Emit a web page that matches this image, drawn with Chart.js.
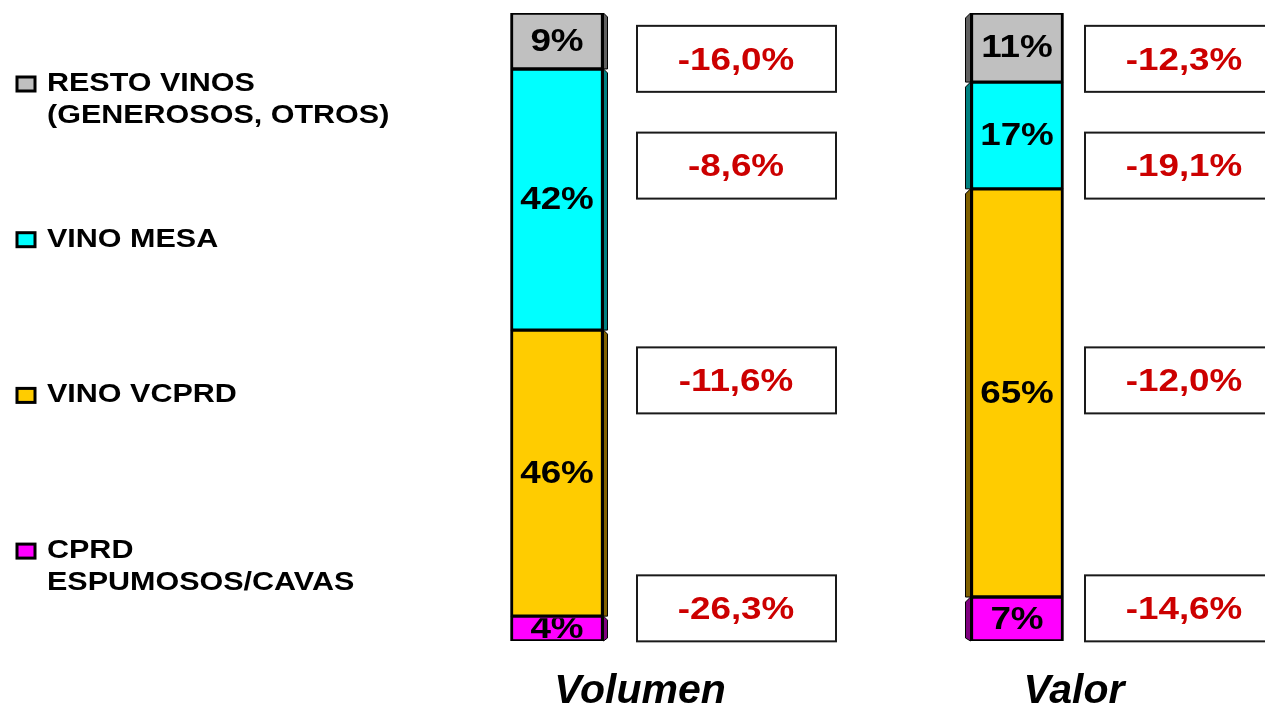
<!DOCTYPE html>
<html>
    <head>
        <meta charset="utf-8">
        <script src="https://cdn.jsdelivr.net/npm/chart.js@4.4.1/dist/chart.umd.min.js"></script>
        <style>
            body { margin: 0; background: #ffffff; }
        </style>
    </head>
    <body>
        <canvas id="myChart" width="1265" height="709"></canvas>
    </body>
    <script type="text/javascript">
        // categories (x) and series, bottom of the stack first
        var categories = ['Volumen', 'Valor'];
        var seriesNames = [
            ['CPRD', 'ESPUMOSOS/CAVAS'],
            ['VINO VCPRD'],
            ['VINO MESA'],
            ['RESTO VINOS', '(GENEROSOS, OTROS)']
        ];
        // share of each segment, %
        var shareCava = [4, 7];
        var shareVcprd = [46, 65];
        var shareMesa = [42, 17];
        var shareResto = [9, 11];
        // change vs previous year, %
        var changeCava = [-26.3, -14.6];
        var changeVcprd = [-11.6, -12.0];
        var changeMesa = [-8.6, -19.1];
        var changeResto = [-16.0, -12.3];

        var shares = [shareCava, shareVcprd, shareMesa, shareResto];
        var changes = [changeCava, changeVcprd, changeMesa, changeResto];

        // styling / layout
        var colours = ['#FF00FF', '#FFCC00', '#00FFFF', '#C0C0C0'];
        var sideColours = ['#800080', '#806000', '#008080', '#606060'];
        var sideDepth = [4, -5];            // 3d side: right on first bar, left on second
        var boxCentre = [5.2, 41.5, 75.7, 92.7]; // y of the change boxes, in axis units
        var boxOffset = [80, 68];           // box left edge from bar centre
        var titleOffset = [83, 57];         // category title centre from bar centre
        var FONT = '"Liberation Sans", Arial, sans-serif';

        // 100% stacked: each column scaled to its own total
        var totals = categories.map(function (c, i) {
            var t = 0;
            shares.forEach(function (s) { t += s[i]; });
            return t;
        });

        var dataSets = shares.map(function (s, k) {
            return {
                label: seriesNames[k].join(' '),
                data: s.map(function (v, i) { return v / totals[i] * 100; }),
                backgroundColor: colours[k],
                borderColor: '#000000',
                borderWidth: { left: 3, right: 3, top: 2, bottom: 2 },
                borderSkipped: false,
                barThickness: 93
            };
        });

        function wideText(ctx, text, x, y, sx) {
            ctx.save();
            ctx.translate(x, y);
            ctx.scale(sx, 1);
            ctx.fillText(text, 0, 0);
            ctx.restore();
        }

        var sidePlugin = {
            id: 'sides',
            beforeDatasetsDraw: function (chart) {
                var ctx = chart.ctx;
                chart.data.datasets.forEach(function (ds, k) {
                    chart.getDatasetMeta(k).data.forEach(function (bar, i) {
                        var d = sideDepth[i];
                        var edge = d > 0 ? bar.x + bar.width / 2 : bar.x - bar.width / 2;
                        var top = bar.y, bottom = bar.base;
                        ctx.save();
                        ctx.beginPath();
                        ctx.moveTo(edge, top);
                        ctx.lineTo(edge + d, top + Math.abs(d));
                        ctx.lineTo(edge + d, bottom - (k === 0 ? 3 : 0));
                        ctx.lineTo(edge, bottom);
                        ctx.closePath();
                        ctx.fillStyle = sideColours[k];
                        ctx.fill();
                        ctx.strokeStyle = '#000000';
                        ctx.lineWidth = 1;
                        ctx.stroke();
                        ctx.restore();
                    });
                });
            }
        };

        var labelPlugin = {
            id: 'labels',
            afterDatasetsDraw: function (chart) {
                var ctx = chart.ctx;
                var yScale = chart.scales.y;
                var xScale = chart.scales.x;
                // percentages inside the segments
                chart.data.datasets.forEach(function (ds, k) {
                    chart.getDatasetMeta(k).data.forEach(function (bar, i) {
                        var left = bar.x - bar.width / 2 + 3, right = bar.x + bar.width / 2 - 3;
                        var top = bar.y + 2, bottom = bar.base - 2;
                        ctx.save();
                        ctx.beginPath();
                        ctx.rect(left, top, right - left, bottom - top);
                        ctx.clip();
                        ctx.fillStyle = '#000000';
                        ctx.font = 'bold 32px ' + FONT;
                        ctx.textAlign = 'center';
                        ctx.textBaseline = 'middle';
                        wideText(ctx, shares[k][i] + '%', bar.x, (bar.y + bar.base) / 2 + 1, 1.15);
                        ctx.restore();
                    });
                });
                // change boxes
                categories.forEach(function (c, i) {
                    var bx = xScale.getPixelForValue(i) + boxOffset[i];
                    changes.forEach(function (ch, k) {
                        var cy = yScale.getPixelForValue(boxCentre[k]);
                        ctx.save();
                        ctx.fillStyle = '#ffffff';
                        ctx.fillRect(bx, cy - 33, 199, 66);
                        ctx.strokeStyle = '#1a1a1a';
                        ctx.lineWidth = 2;
                        ctx.strokeRect(bx, cy - 33, 199, 66);
                        ctx.fillStyle = '#CC0000';
                        ctx.font = 'bold 32px ' + FONT;
                        ctx.textAlign = 'center';
                        ctx.textBaseline = 'middle';
                        var txt = ch[i].toFixed(1).replace('.', ',') + '%';
                        wideText(ctx, txt, bx + 99, cy + 2, 1.15);
                        ctx.restore();
                    });
                    // category title
                    ctx.save();
                    ctx.fillStyle = '#000000';
                    ctx.font = 'italic bold 41px ' + FONT;
                    ctx.textAlign = 'center';
                    ctx.textBaseline = 'alphabetic';
                    ctx.fillText(c, xScale.getPixelForValue(i) + titleOffset[i], 703);
                    ctx.restore();
                });
                // legend, top series first
                ctx.save();
                ctx.font = 'bold 25px ' + FONT;
                ctx.textAlign = 'left';
                ctx.textBaseline = 'middle';
                for (var n = 0; n < seriesNames.length; n++) {
                    var k = seriesNames.length - 1 - n;
                    var y0 = 84 + n * 155.7;
                    ctx.fillStyle = colours[k];
                    ctx.fillRect(17, y0 - 7, 18, 14);
                    ctx.strokeStyle = '#000000';
                    ctx.lineWidth = 3;
                    ctx.strokeRect(17, y0 - 7, 18, 14);
                    ctx.fillStyle = '#000000';
                    seriesNames[k].forEach(function (line, j) {
                        wideText(ctx, line, 47, y0 + j * 32, 1.22);
                    });
                }
                ctx.restore();
            }
        };

        var ctx = document.getElementById('myChart').getContext('2d');
        var chart = new Chart(ctx, {
            type: 'bar',
            data: {
                labels: categories,
                datasets: dataSets
            },
            options: {
                responsive: false,
                animation: false,
                layout: {
                    padding: { left: 327, right: 18, top: 13, bottom: 68 }
                },
                plugins: {
                    legend: { display: false },
                    tooltip: { enabled: false }
                },
                scales: {
                    x: { stacked: true, display: false },
                    y: { stacked: true, display: false, min: 0, max: 100 }
                }
            },
            plugins: [sidePlugin, labelPlugin]
        });
    </script>
</html>
